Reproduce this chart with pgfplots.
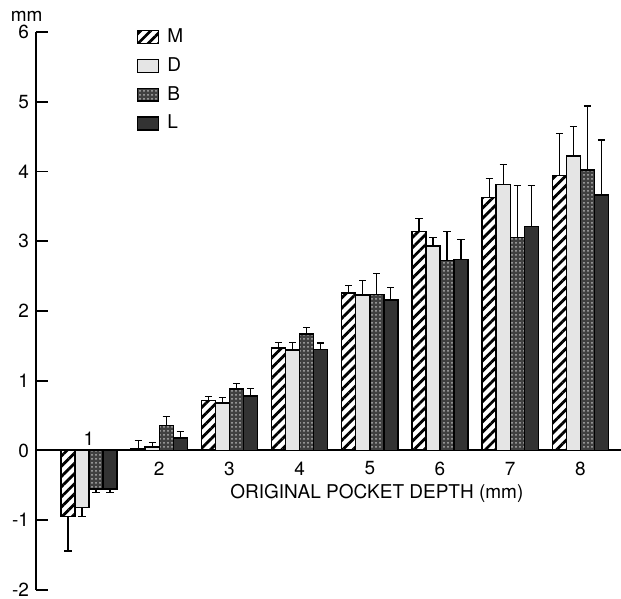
\documentclass[border=0pt]{standalone}
\usepackage{fontspec}
\setmainfont{TeX Gyre Heros}
\usepackage{pgfplots}
\usepackage{pgfplotstable}
\pgfplotsset{compat=1.18}
\usetikzlibrary{patterns.meta}

% Mean change per original pocket depth; p/m = upper/lower error bar length
\pgfplotstableread{
grp M     Mp   Mm   D     Dp   Dm   B     Bp   Bm   L     Lp   Lm
1   -0.95 0    0.49 -0.82 0    0.13 -0.55 0    0.05 -0.55 0    0.05
2   0.02  0.12 0    0.05  0.06 0    0.36  0.13 0    0.18  0.09 0
3   0.72  0.05 0    0.68  0.08 0    0.88  0.08 0    0.78  0.11 0
4   1.47  0.08 0    1.44  0.11 0    1.67  0.09 0    1.45  0.09 0
5   2.26  0.10 0    2.23  0.21 0    2.24  0.30 0    2.16  0.18 0
6   3.14  0.19 0    2.93  0.12 0    2.72  0.42 0    2.74  0.28 0
7   3.63  0.27 0    3.81  0.29 0    3.05  0.75 0    3.21  0.59 0
8   3.94  0.60 0    4.22  0.42 0    4.02  0.92 0    3.66  0.79 0
}\depthdata

\newcommand\lab{\fontsize{9.5}{11}\selectfont}

\pgfplotsset{
  myerr/.style={
    error bars/.cd,
      y dir=both, y explicit,
      error bar style={line width=0.6pt, black},
      error mark options={rotate=90, line width=0.6pt, mark size=1.8pt, black},
  },
  swatch/.style={
    legend image code/.code={\draw[##1] (0pt,-3.2pt) rectangle (10.5pt,3.2pt);}
  },
}

\begin{document}
\begin{tikzpicture}
\begin{axis}[
  scale only axis,
  width=292.5pt, height=279pt,
  xmin=0.245, xmax=8.578,
  ymin=-2, ymax=6,
  clip=false,
  axis y line=left, axis x line=middle,
  axis line style={-, line width=1pt, black},
  xtick=\empty,
  ytick={-2,-1,0,1,2,3,4,5,6},
  tick align=inside,
  major tick length=6pt,
  tick style={line width=0.9pt, black},
  hide obscured y ticks=false,
  /pgf/number format/assume math mode=true,
  yticklabel style={font=\lab},
  ybar, bar width=0.2,
  legend style={draw=none, fill=none, inner sep=0pt,
    at={(rel axis cs:0.172,1.014)}, anchor=north west,
    font=\lab, row sep=2pt, column sep=2pt, cells={anchor=west}},
]
\addplot[draw=black, line width=0.7pt, bar shift=-0.3,
  pattern={Lines[angle=45, distance=3.6pt, line width=1.4pt]}, pattern color=black,
  swatch, myerr]
  table[x=grp, y=M, y error plus=Mp, y error minus=Mm] {\depthdata};
\addplot[draw=black, line width=0.7pt, bar shift=-0.1,
  fill=black!10, swatch, myerr]
  table[x=grp, y=D, y error plus=Dp, y error minus=Dm] {\depthdata};
\addplot[draw=black, line width=0.7pt, bar shift=0.1,
  fill=black!75,
  postaction={pattern={Dots[distance=2pt, radius=0.5pt]}, pattern color=black!30},
  swatch, myerr]
  table[x=grp, y=B, y error plus=Bp, y error minus=Bm] {\depthdata};
\addplot[draw=black, line width=0.7pt, bar shift=0.3,
  fill=black!80, swatch, myerr]
  table[x=grp, y=L, y error plus=Lp, y error minus=Lm] {\depthdata};
\legend{M,D,B,L}

% group labels
\node[font=\lab] at (axis cs:1,0) [yshift=6pt] {1};
\pgfplotsinvokeforeach{2,...,8}{
  \node[font=\lab] at (axis cs:#1,0) [yshift=-9pt] {#1};
}
\node[font=\lab] at (axis cs:5.1,0) [yshift=-21.5pt] {ORIGINAL POCKET DEPTH (mm)};
\node[font=\lab] at (rel axis cs:0,1) [xshift=-4.7pt, yshift=8pt] {mm};

\coordinate (sw) at (rel axis cs:0,0);
\coordinate (ne) at (rel axis cs:1,1);
\end{axis}
\pgfresetboundingbox
\path[use as bounding box] ([xshift=-18pt, yshift=-4.5pt]sw) rectangle ([yshift=16pt]ne);
\end{tikzpicture}
\end{document}
